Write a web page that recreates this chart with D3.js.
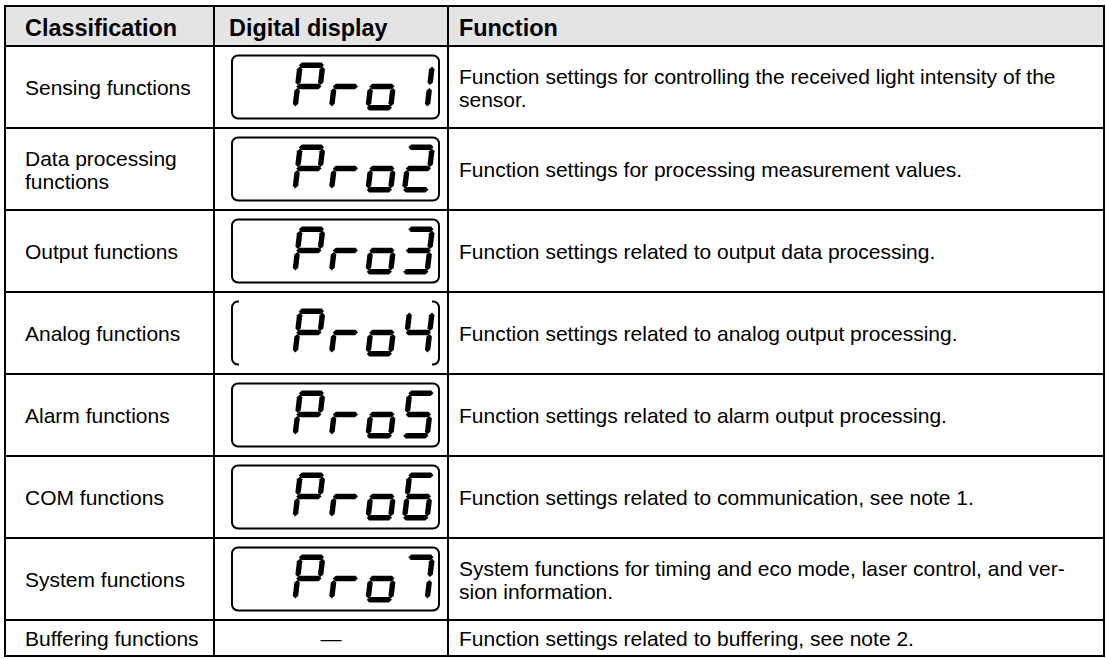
<!DOCTYPE html>
<html>
<head>
<meta charset="utf-8">
<script src="https://cdn.jsdelivr.net/npm/d3@7"></script>
<style>
  html, body { margin: 0; padding: 0; background: #fff; }
  svg text { font-family: "Liberation Sans", Arial, sans-serif; fill: #000; }
</style>
</head>
<body>
<svg id="chart" width="1106" height="659"></svg>
<script>
// ---------- data ----------
const headers = ["Classification", "Digital display", "Function"];
const classifications = [
  ["Sensing functions"],
  ["Data processing", "functions"],
  ["Output functions"],
  ["Analog functions"],
  ["Alarm functions"],
  ["COM functions"],
  ["System functions"],
  ["Buffering functions"]
];
const displays = ["Pro1", "Pro2", "Pro3", "Pro4", "Pro5", "Pro6", "Pro7", null];
const bracketOnly = [false, false, false, true, false, false, false, false];
const functions = [
  ["Function settings for controlling the received light intensity of the", "sensor."],
  ["Function settings for processing measurement values."],
  ["Function settings related to output data processing."],
  ["Function settings related to analog output processing."],
  ["Function settings related to alarm output processing."],
  ["Function settings related to communication, see note 1."],
  ["System functions for timing and eco mode, laser control, and ver-", "sion information."],
  ["Function settings related to buffering, see note 2."]
];

// seven-segment glyph definitions
const segMap = {
  "P": "abefg", "r": "eg", "o": "cdeg",
  "1": "bc", "2": "abdeg", "3": "abcdg", "4": "bcfg", "5": "acdfg",
  "6": "acdefg", "7": "abc"
};

// ---------- layout ----------
const svg = d3.select("#chart");
const colX = [5, 214, 448, 1104];
const tableTop = 6, headerBottom = 46, mainBottom = 620, tableBottom = 656;
const y = d3.scaleBand().domain(d3.range(7)).range([headerBottom, mainBottom]);
function rowTop(i) { return i < 7 ? y(i) : mainBottom; }
function rowH(i) { return i < 7 ? y.bandwidth() : tableBottom - mainBottom; }

svg.append("rect").attr("x", colX[0]).attr("y", tableTop)
  .attr("width", colX[3] - colX[0]).attr("height", headerBottom - tableTop)
  .attr("fill", "#e4e4e4");

const headerTextX = [25, 229, 459];
svg.selectAll("text.hdr").data(headers).join("text")
  .attr("class", "hdr")
  .attr("x", (d, i) => headerTextX[i])
  .attr("y", 35.5)
  .attr("font-size", 23.4)
  .attr("font-weight", "bold")
  .text(d => d);

const fs = 21, lh = 23;
function drawLines(g, lines, x, cy) {
  const n = lines.length;
  lines.forEach((t, k) => {
    g.append("text")
      .attr("x", x)
      .attr("y", cy + 8 + (k - (n - 1) / 2) * lh)
      .attr("font-size", fs)
      .text(t);
  });
}

const rows = svg.selectAll("g.row").data(d3.range(8)).join("g").attr("class", "row");
rows.each(function (i) {
  const g = d3.select(this);
  const cy = rowTop(i) + rowH(i) / 2;
  drawLines(g, classifications[i], 25, cy);
  drawLines(g, functions[i], 459, cy);

  const code = displays[i];
  if (!code) {
    g.append("text")
      .attr("x", (colX[1] + colX[2]) / 2)
      .attr("y", cy + 8)
      .attr("text-anchor", "middle")
      .attr("font-size", fs)
      .text("\u2014");
    return;
  }
  const bx0 = colX[1] + 18, bx1 = colX[2] - 9;
  const bh = 63, by0 = cy - bh / 2, by1 = cy + bh / 2, r = 6;
  if (!bracketOnly[i]) {
    g.append("rect").attr("x", bx0).attr("y", by0)
      .attr("width", bx1 - bx0).attr("height", bh)
      .attr("rx", r).attr("ry", r)
      .attr("fill", "none").attr("stroke", "#000").attr("stroke-width", 2);
  } else {
    const arm = 7;
    const p1 = d3.path();
    p1.moveTo(bx0 + arm, by0);
    p1.lineTo(bx0 + r, by0);
    p1.arcTo(bx0, by0, bx0, by0 + r, r);
    p1.lineTo(bx0, by1 - r);
    p1.arcTo(bx0, by1, bx0 + r, by1, r);
    p1.lineTo(bx0 + arm, by1);
    const p2 = d3.path();
    p2.moveTo(bx1 - arm, by0);
    p2.lineTo(bx1 - r, by0);
    p2.arcTo(bx1, by0, bx1, by0 + r, r);
    p2.lineTo(bx1, by1 - r);
    p2.arcTo(bx1, by1, bx1 - r, by1, r);
    p2.lineTo(bx1 - arm, by1);
    [p1, p2].forEach(p => g.append("path").attr("d", p.toString())
      .attr("fill", "none").attr("stroke", "#000").attr("stroke-width", 2));
  }

  const chars = code.split("");
  const dx = d3.scaleLinear().domain([0, 3]).range([bx0 + 60, bx0 + 169.5]);
  const DH = 48, DW = 28, t = 5.4, gap = 1.4, slant = 0.12;
  const top = cy - DH / 2 - 0.5;
  chars.forEach((ch, k) => {
    const x0 = dx(k);
    const tf = (u, v) => [x0 + u + slant * (DH - v), top + v];
    const hseg = (yc) => {
      const x1 = gap, x2 = DW - gap;
      return [[x1, yc], [x1 + t / 2, yc - t / 2], [x2 - t / 2, yc - t / 2], [x2, yc], [x2 - t / 2, yc + t / 2], [x1 + t / 2, yc + t / 2]];
    };
    const vseg = (xc, y1, y2) => [[xc, y1], [xc + t / 2, y1 + t / 2], [xc + t / 2, y2 - t / 2], [xc, y2], [xc - t / 2, y2 - t / 2], [xc - t / 2, y1 + t / 2]];
    const segs = {
      a: hseg(t / 2),
      g: hseg(DH / 2),
      d: hseg(DH - t / 2),
      f: vseg(t / 2, t / 2 + gap, DH / 2 - gap),
      e: vseg(t / 2, DH / 2 + gap, DH - t / 2 - gap),
      b: vseg(DW - t / 2, t / 2 + gap, DH / 2 - gap),
      c: vseg(DW - t / 2, DH / 2 + gap, DH - t / 2 - gap)
    };
    (segMap[ch] || "").split("").forEach(s => {
      g.append("polygon")
        .attr("points", segs[s].map(p => tf(p[0], p[1]).join(",")).join(" "))
        .attr("fill", "#000");
    });
  });
});

const hLines = [tableTop, headerBottom].concat(d3.range(1, 7).map(i => y(i)), [mainBottom, tableBottom]);
svg.selectAll("line.h").data(hLines).join("line")
  .attr("class", "h")
  .attr("x1", colX[0] - 1).attr("x2", colX[3] + 1)
  .attr("y1", d => d).attr("y2", d => d)
  .attr("stroke", "#000").attr("stroke-width", 2);
svg.selectAll("line.v").data(colX).join("line")
  .attr("class", "v")
  .attr("x1", d => d).attr("x2", d => d)
  .attr("y1", tableTop).attr("y2", tableBottom)
  .attr("stroke", "#000").attr("stroke-width", 2);
</script>
</body>
</html>
